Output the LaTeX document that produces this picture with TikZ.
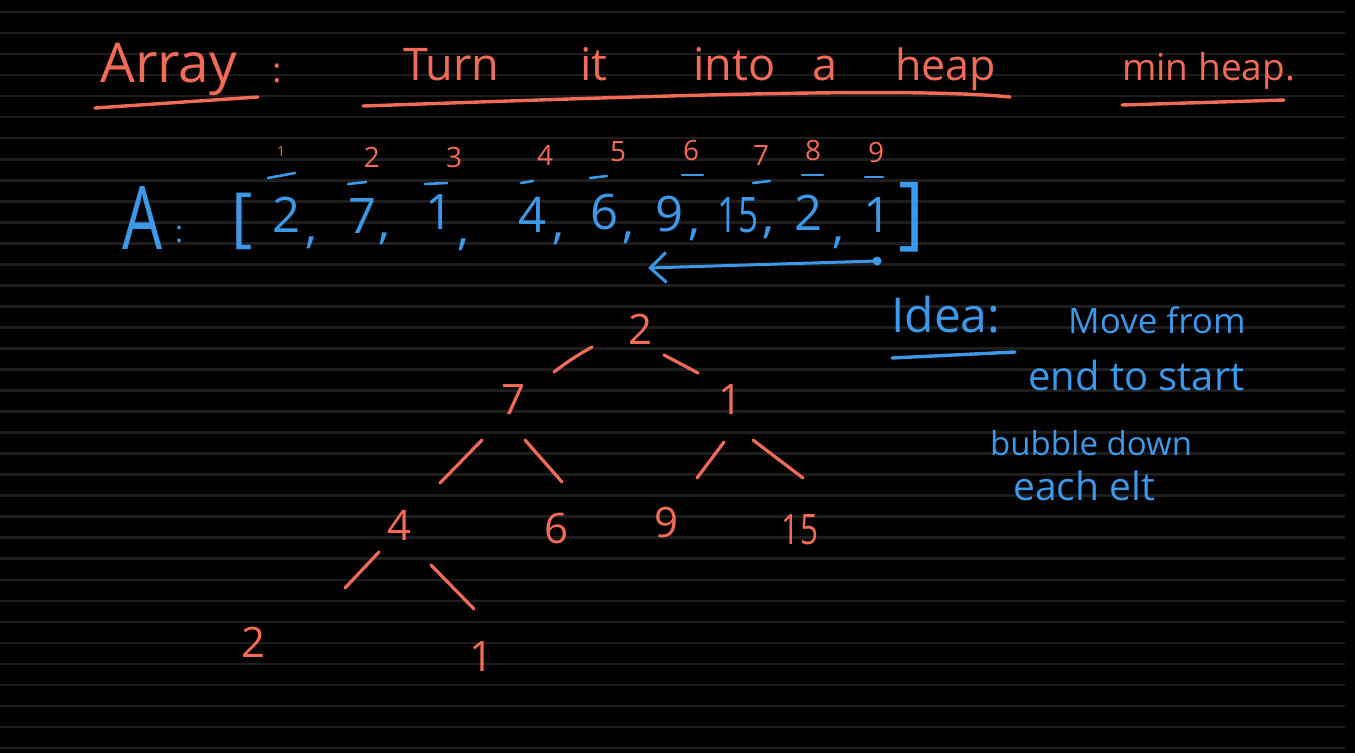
\documentclass[tikz,border=0pt]{standalone}
\usepackage{fontspec}
\setmainfont{Open Sans}
\usetikzlibrary{calc,arrows.meta}
\definecolor{ink}{RGB}{240,108,88}
\definecolor{pen}{RGB}{62,152,232}
\definecolor{ruling}{RGB}{30,30,30}
\newcommand{\fsz}[1]{\fontsize{#1}{#1}\selectfont}
\begin{document}
\begin{tikzpicture}[x=1pt,y=-1pt,
  ruleline/.style={draw=ruling,line width=2.6pt},
  otxt/.style={text=ink,inner sep=0pt},
  btxt/.style={text=pen,inner sep=0pt},
  idx/.style={otxt,font=\fsz{28}},
  val/.style={btxt,font=\fsz{49}},
  cma/.style={btxt,font=\fsz{49}},
  tnode/.style={otxt,font=\fsz{42}},
  tedge/.style={draw=ink,line width=3.2pt,line cap=round},
  oline/.style={draw=ink,line width=3.4pt,line cap=round},
  bline/.style={draw=pen,line width=3.4pt,line cap=round},
  bbar/.style={draw=pen,line width=2.6pt,line cap=round}]
\fill[black] (0,0) rectangle (1355,753);
\useasboundingbox (0,0) rectangle (1355,753);
\foreach \k in {0,...,35} \draw[ruleline] (0,{12+21.03*\k}) -- (1345,{12+21.03*\k});

% title
\node[otxt,font=\fsz{55},anchor=base west] (tArray) at (100,82) {Array};
\node[otxt,font=\fsz{34},anchor=base] (tColon) at (277,82) {:};
\node[otxt,font=\fsz{45},anchor=base west] (tTurn) at (403,80) {Turn};
\node[otxt,font=\fsz{45},anchor=base west] (tIt) at (580,80) {it};
\node[otxt,font=\fsz{45},anchor=base west] (tInto) at (693,80) {into};
\node[otxt,font=\fsz{45},anchor=base west] (tA) at (812,80) {a};
\node[otxt,font=\fsz{43},anchor=base west] (tHeap) at (895,80) {heap};
\node[otxt,font=\fsz{37},anchor=base west] (tMin) at (1122,80) {min heap.};
\draw[oline] (95,108) -- (258,97);
\draw[oline] (363,106) .. controls (600,98) and (900,86) .. (1010,97);
\draw[oline] (1122,105) -- (1284,100);

% indices
\node[otxt,font=\fsz{14}] (i1) at (281,151) {1};
\node[idx] (i2) at (372,157) {2};
\node[idx] (i3) at (454,157) {3};
\node[idx] (i4) at (545,155) {4};
\node[idx] (i5) at (618,152) {5};
\node[idx] (i6) at (691,150) {6};
\node[idx] (i7) at (761,156) {7};
\node[idx] (i8) at (813,150) {8};
\node[idx] (i9) at (876,152) {9};

% array
\node[btxt,font=\fsz{88}] (aA) at (143,218) {\scalebox{0.72}[1]{A}};
\node[btxt,font=\fsz{30},anchor=base] (aColon) at (179,242) {:};
\node[btxt,font=\fsz{65}] (lbr) at (242,221) {[};
\node[btxt,font=\fsz{80}] (rbr) at (912,217) {]};
\node[val] (v1) at (287,215) {2};
\node[val] (v2) at (363,216) {7};
\node[val] (v3) at (440,212) {1};
\node[val] (v4) at (533,215) {4};
\node[val] (v5) at (605,212) {6};
\node[val] (v6) at (670,214) {9};
\node[val] (v7) at (738,215) {\scalebox{0.72}[1]{15}};
\node[val] (v8) at (808,213) {2};
\node[val] (v9) at (877,215) {1};
\node[cma] (c1) at (312,243) {,};
\node[cma] (c2) at (385,239) {,};
\node[cma] (c3) at (464,245) {,};
\node[cma] (c4) at (558,239) {,};
\node[cma] (c5) at (628,238) {,};
\node[cma] (c6) at (694,235) {,};
\node[cma] (c7) at (768,233) {,};
\node[cma] (c8) at (838,243) {,};
\draw[bbar] (268,178) -- (295,173);
\draw[bbar] (348,184) -- (366,182);
\draw[bbar] (425,184) -- (447,183);
\draw[bbar] (521,183) -- (533,181);
\draw[bbar] (590,178) -- (607,176);
\draw[bbar] (682,175) -- (703,175);
\draw[bbar] (753,183) -- (770,181);
\draw[bbar] (802,175) -- (823,175);
\draw[bbar] (865,177) -- (883,177);
\coordinate (arrFrom) at (877,261);
\coordinate (arrTo) at (648,268);
\fill[pen] (arrFrom) circle (4.5);
\draw[bline,line width=3pt,-{Straight Barb[length=16pt,width=30pt,line width=3pt]}] (arrFrom) -- (arrTo);

% tree
\node[tnode] (r) at (640,329) {2};
\node[tnode] (a) at (514,400) {7};
\node[tnode] (b) at (730,400) {1};
\node[tnode] (c) at (400,525) {4};
\node[tnode] (d) at (557,528) {6};
\node[tnode] (e) at (667,522) {9};
\node[tnode] (f) at (800,530) {\scalebox{0.75}[1]{15}};
\node[tnode] (g) at (254,642) {2};
\node[tnode] (h) at (482,656) {1};
\draw[tedge] ($(r)+(-48,18)$) to[bend right=4] ($(a)+(40,-28)$);
\draw[tedge] ($(r)+(24,26)$) -- ($(b)+(-32,-27)$);
\draw[tedge] ($(a)+(-32,40)$) -- ($(c)+(40,-42)$);
\draw[tedge] ($(a)+(11,40)$) -- ($(d)+(5,-46)$);
\draw[tedge] ($(b)+(-6,42)$) -- ($(e)+(30,-44)$);
\draw[tedge] ($(b)+(23,40)$) -- ($(f)+(3,-52)$);
\draw[tedge] ($(c)+(-21,27)$) -- ($(g)+(91,-54)$);
\draw[tedge] ($(c)+(31,40)$) -- ($(h)+(-8,-47)$);

% idea
\node[btxt,font=\fsz{48},anchor=base west] (idea) at (891,332) {Idea:};
\draw[bline] (892,358) -- (1015,352);
\node[btxt,font=\fsz{35},anchor=base west] (l1) at (1068,333) {Move from};
\node[btxt,font=\fsz{40},anchor=base west] (l2) at (1028,390) {end to start};
\node[btxt,font=\fsz{33},anchor=base west] (l3) at (990,455) {bubble down};
\node[btxt,font=\fsz{39},anchor=base west] (l4) at (1013,500) {each elt};
\end{tikzpicture}
\end{document}
